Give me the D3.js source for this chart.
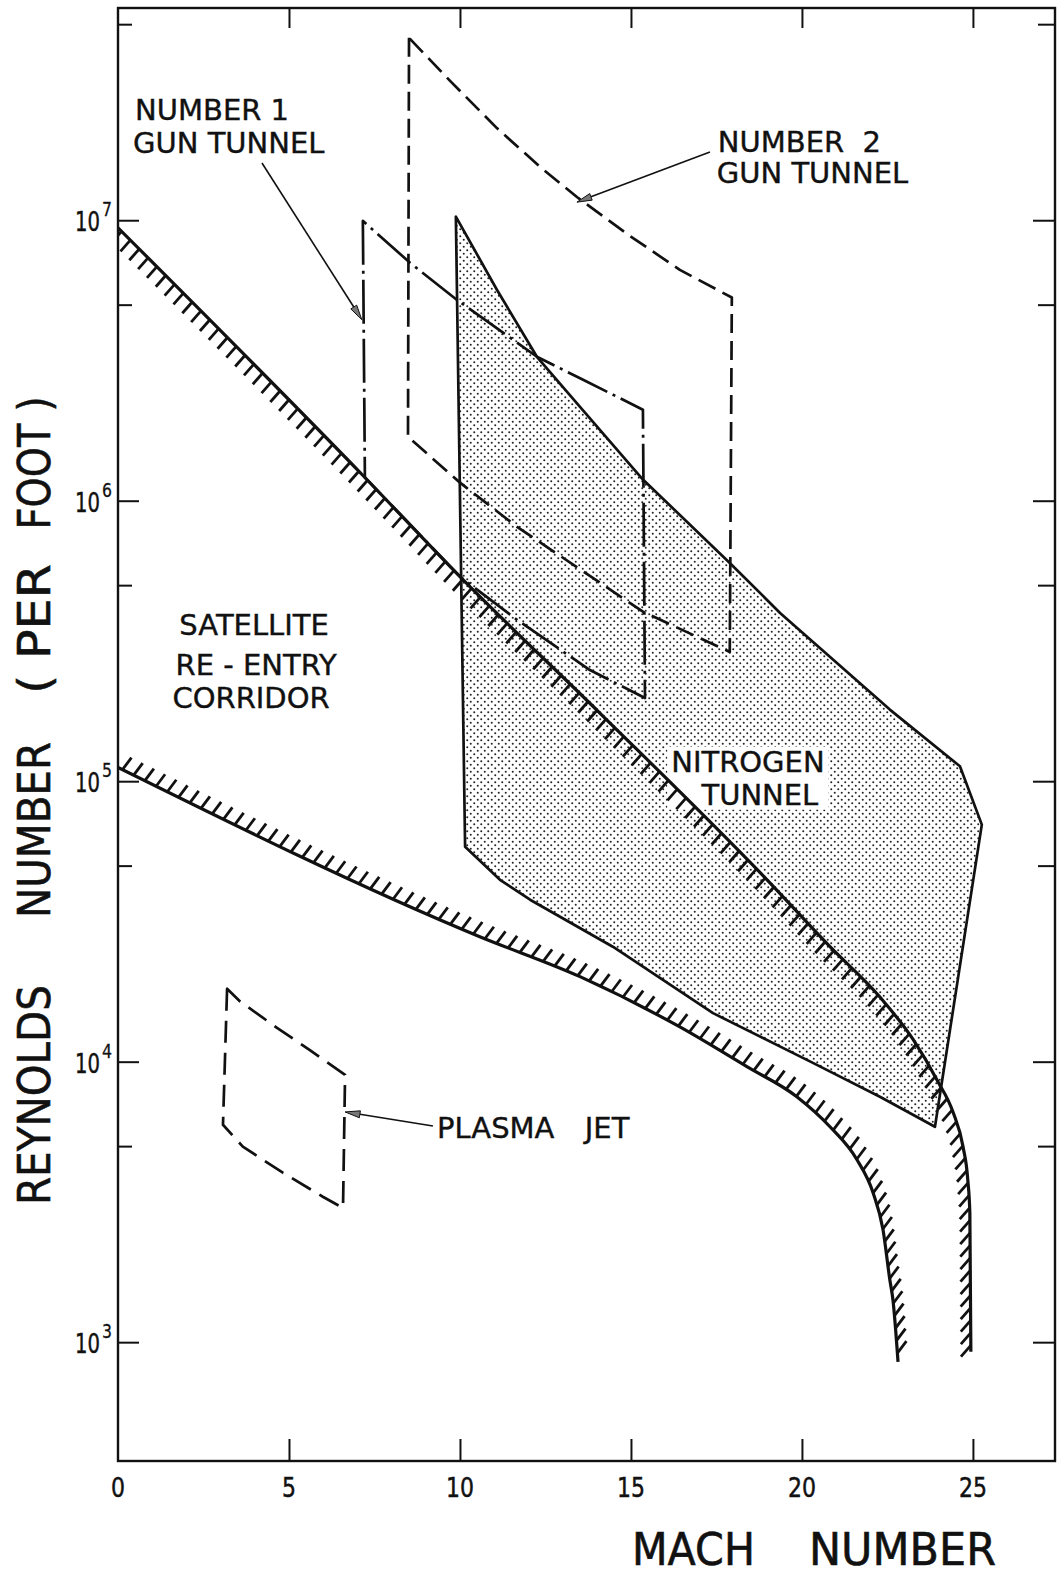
<!DOCTYPE html>
<html>
<head>
<meta charset="utf-8">
<script src="https://cdn.jsdelivr.net/npm/d3@7"></script>
<style>
	body { margin: 0; background: #fff; }
	svg { display: block; background: #fff; }
	text { font-family: 'DejaVu Sans', 'Open Sans', sans-serif; fill: #111; white-space: pre; }
</style>
</head>
<body>
<svg id="chart" width="1063" height="1574"></svg>
<script>
// axis ticks
const machTicks = [5, 10, 15, 20, 25];
const machLabelValues = [0, 5, 10, 15, 20, 25];
const machLabels = ['0', '5', '10', '15', '20', '25'];
const reynoldsDecades = [1e3, 1e4, 1e5, 1e6, 1e7];
const reynoldsExponents = ['3', '4', '5', '6', '7'];
const reynoldsHalfDecades = [5e3, 5e4, 5e5, 5e6, 5e7];

// satellite re-entry corridor, upper and lower boundary
const upperCorridorMach = [0, 7.22, 10.0, 14.09, 18.98, 20.82, 22.28, 23.25, 23.95, 24.42, 24.71, 24.85, 24.91, 24.94];
const upperCorridorRe = [9.4e6, 1.21e6, 5.36e5, 1.75e5, 4.45e4, 2.57e4, 1.70e4, 1.20e4, 8.6e3, 6.6e3, 4.98e3, 3.79e3, 2.89e3, 925];
const lowerCorridorMach = [0, 10.58, 13.51, 16.43, 18.39, 19.85, 20.82, 21.61, 22.08, 22.37, 22.57, 22.66, 22.81];
const lowerCorridorRe = [1.12e5, 2.79e4, 2.01e4, 1.33e4, 9.6e3, 7.5e3, 5.86e3, 4.47e3, 3.41e3, 2.52e3, 1.67e3, 1.42e3, 851];

// facility envelopes
const nitrogenMach = [9.88, 10.15, 11.17, 12.05, 14.47, 17.40, 20.32, 22.28, 23.89, 25.26, 24.62, 22.57, 19.36, 17.89, 15.35, 13.51, 12.25, 11.08];
const nitrogenRe = [1.03e7, 5.84e4, 4.45e4, 3.78e4, 2.57e4, 1.49e4, 9.9e3, 7.5e3, 5.86e3, 7.0e4, 1.13e5, 1.80e5, 3.98e5, 6.0e5, 1.19e6, 2.16e6, 3.26e6, 5.65e6];
const gunTunnel1Mach = [7.16, 7.22, 10.0, 11.67, 13.80, 15.41, 15.35, 13.60, 12.25, 9.91, 8.54];
const gunTunnel1Re = [9.95e6, 1.21e6, 5.36e5, 3.76e5, 2.49e5, 1.98e5, 2.11e6, 2.70e6, 3.26e6, 5.20e6, 7.05e6];
const gunTunnel2Mach = [8.51, 8.48, 10.0, 11.67, 15.35, 17.89, 17.95, 16.43, 14.97, 13.42, 12.34, 11.08, 9.71];
const gunTunnel2Re = [4.47e7, 1.69e6, 1.16e6, 8.07e5, 4.02e5, 2.89e5, 5.30e6, 6.65e6, 8.79e6, 1.21e7, 1.55e7, 2.13e7, 3.14e7];
const plasmaJetMach = [3.19, 3.07, 3.65, 4.82, 5.99, 6.58, 6.64, 5.61, 4.65, 3.57];
const plasmaJetRe = [1.82e4, 5.96e3, 4.98e3, 4.02e3, 3.30e3, 3.01e3, 8.98e3, 1.10e4, 1.32e4, 1.64e4];

// leader arrows: [mach, re] from label to envelope
const arrowFrom = [[4.21, 1.60e7], [17.31, 1.75e7], [9.21, 5.90e3]];
const arrowTo = [[7.13, 4.42e6], [13.42, 1.16e7], [6.64, 6.62e3]];

const ReEntryChart = {
	width: 1063,
	height: 1574,
	margin: { left: 118, right: 8, top: 8, bottom: 113 },
	machMax: 27.4,
	reMin: 377,
	reMax: 5.71e7,

	draw: function() {
		const self = this;

		self.svg = d3.select('#chart');
		self.x0 = self.margin.left;
		self.x1 = self.width - self.margin.right;
		self.y0 = self.margin.top;
		self.y1 = self.height - self.margin.bottom;
		self.xScale = d3.scaleLinear()
			.domain([ 0, self.machMax ])
			.range([ self.x0, self.x1 ]);
		self.yScale = d3.scaleLog()
			.domain([ self.reMin, self.reMax ])
			.range([ self.y1, self.y0 ]);

		self.initDefs();
		self.initLayers();
		self.drawEnvelopeFills();
		self.drawCorridor();
		self.drawEnvelopeOutlines();
		self.drawLabels();
		self.drawArrows();
		self.drawAxes();
	},

	initDefs: function() {
		const self = this;
		let defs = self.svg.append('defs');
		let pattern = defs.append('pattern')
			.attr('id', 'stipple')
			.attr('patternUnits', 'userSpaceOnUse')
			.attr('width', 7)
			.attr('height', 7);

		pattern.append('circle').attr('cx', 1.75).attr('cy', 1.75).attr('r', 1).attr('fill', '#222');
		pattern.append('circle').attr('cx', 5.25).attr('cy', 5.25).attr('r', 1).attr('fill', '#222');

		defs.append('clipPath')
			.attr('id', 'plot-clip')
			.append('rect')
			.attr('x', self.x0)
			.attr('y', self.y0)
			.attr('width', self.x1 - self.x0)
			.attr('height', self.y1 - self.y0);
	},
	initLayers: function() {
		const self = this;
		let plot = self.svg.append('g').attr('clip-path', 'url(#plot-clip)');

		self.fillLayer = plot.append('g');
		self.knockoutLayer = plot.append('g');
		self.corridorLayer = plot.append('g');
		self.outlineLayer = plot.append('g');
		self.textLayer = self.svg.append('g');
		self.arrowLayer = self.svg.append('g');
		self.axisLayer = self.svg.append('g');
	},
	linePath: function(mach, re, curve) {
		const self = this;
		let line = d3.line()
			.x(d => self.xScale(d[0]))
			.y(d => self.yScale(d[1]));

		if (curve)
			line.curve(curve);

		return line(d3.zip(mach, re));
	},
	// narrow lettering: squeeze the text to a given width
	fitText: function(parent, str, fontSize, width, x, y, rotate) {
		let el = parent.append('text')
			.attr('font-size', fontSize)
			.text(str);
		let natural = el.node().getComputedTextLength();
		let k = width / natural;

		el.attr('transform', 'translate(' + x + ',' + y + ')' +
			(rotate ? ' rotate(' + rotate + ')' : '') +
			' scale(' + k + ',1)');

		return el;
	},

	drawEnvelopeFills: function() {
		const self = this;

		self.fillLayer.append('path')
			.attr('d', self.linePath(nitrogenMach, nitrogenRe) + 'Z')
			.attr('fill', 'url(#stipple)')
			.attr('stroke', 'none');
	},
	drawCorridor: function() {
		const self = this;

		self.drawHatchedLine(upperCorridorMach, upperCorridorRe, [ -0.66, 0.75 ]);
		self.drawHatchedLine(lowerCorridorMach, lowerCorridorRe, [ 0.6, -0.8 ]);
	},
	drawHatchedLine: function(mach, re, direction) {
		const self = this;
		let hatchLength = 15;
		let hatchGap = 12.5;
		let path = self.corridorLayer.append('path')
			.attr('d', self.linePath(mach, re, d3.curveMonotoneX))
			.attr('fill', 'none')
			.attr('stroke', '#111')
			.attr('stroke-width', 3.2);
		let node = path.node();
		let total = node.getTotalLength();

		for (let s = 5; s < total; s += hatchGap) {
			let p = node.getPointAtLength(s);

			self.corridorLayer.append('line')
				.attr('x1', p.x)
				.attr('y1', p.y)
				.attr('x2', p.x + direction[0] * hatchLength)
				.attr('y2', p.y + direction[1] * hatchLength)
				.attr('stroke', '#111')
				.attr('stroke-width', 2.8);
		}
	},
	drawEnvelopeOutlines: function() {
		const self = this;
		let envelopes = [
			{ mach: nitrogenMach, re: nitrogenRe, dash: null },
			{ mach: gunTunnel1Mach, re: gunTunnel1Re, dash: '44,6,3,6' },
			{ mach: gunTunnel2Mach, re: gunTunnel2Re, dash: '19,8' },
			{ mach: plasmaJetMach, re: plasmaJetRe, dash: '22,10' }
		];

		for (let i = 0; i < envelopes.length; i++) {
			let env = envelopes[i];

			self.outlineLayer.append('path')
				.attr('d', self.linePath(env.mach, env.re) + 'Z')
				.attr('fill', 'none')
				.attr('stroke', '#111')
				.attr('stroke-width', 2.7)
				.attr('stroke-linejoin', 'round')
				.attr('stroke-dasharray', env.dash);
		}
	},

	drawLabels: function() {
		const self = this;
		let labels = [
			{ text: 'NUMBER 1', mach: 0.50, re: 2.28e7, anchor: 'start' },
			{ text: 'GUN TUNNEL', mach: 0.44, re: 1.74e7, anchor: 'start' },
			{ text: 'NUMBER  2', mach: 17.54, re: 1.75e7, anchor: 'start' },
			{ text: 'GUN TUNNEL', mach: 17.51, re: 1.36e7, anchor: 'start' },
			{ text: 'SATELLITE', mach: 3.98, re: 3.33e5, anchor: 'middle' },
			{ text: 'RE - ENTRY', mach: 4.04, re: 2.39e5, anchor: 'middle' },
			{ text: 'CORRIDOR', mach: 3.89, re: 1.83e5, anchor: 'middle' },
			{ text: 'NITROGEN', mach: 18.42, re: 1.08e5, anchor: 'middle', knockout: true },
			{ text: 'TUNNEL', mach: 18.77, re: 8.25e4, anchor: 'middle', knockout: true },
			{ text: 'PLASMA', mach: 9.33, re: 5.36e3, anchor: 'start' },
			{ text: 'JET', mach: 13.65, re: 5.36e3, anchor: 'start' }
		];
		let knockoutBoxes = [];

		for (let i = 0; i < labels.length; i++) {
			let label = labels[i];
			let textEl = self.textLayer.append('text')
				.attr('x', self.xScale(label.mach))
				.attr('y', self.yScale(label.re))
				.attr('text-anchor', label.anchor)
				.attr('font-size', 29)
				.attr('stroke', '#111')
				.attr('stroke-width', 0.4)
				.text(label.text);

			if (label.knockout)
				knockoutBoxes.push(textEl.node().getBBox());
		}

		if (knockoutBoxes.length) {
			let left = d3.min(knockoutBoxes, b => b.x) - 4;
			let right = d3.max(knockoutBoxes, b => b.x + b.width) + 4;
			let top = d3.min(knockoutBoxes, b => b.y) + 2;
			let bottom = d3.max(knockoutBoxes, b => b.y + b.height) - 2;

			self.knockoutLayer.append('rect')
				.attr('x', left)
				.attr('y', top)
				.attr('width', right - left)
				.attr('height', bottom - top)
				.attr('fill', '#fff');
		}
	},
	drawArrows: function() {
		const self = this;
		let headLength = 15;
		let headHalfWidth = 3.5;

		for (let i = 0; i < arrowFrom.length; i++) {
			let ax = self.xScale(arrowFrom[i][0]);
			let ay = self.yScale(arrowFrom[i][1]);
			let bx = self.xScale(arrowTo[i][0]);
			let by = self.yScale(arrowTo[i][1]);
			let len = Math.hypot(bx - ax, by - ay);
			let ux = (bx - ax) / len;
			let uy = (by - ay) / len;
			let baseX = bx - ux * headLength;
			let baseY = by - uy * headLength;

			self.arrowLayer.append('line')
				.attr('x1', ax)
				.attr('y1', ay)
				.attr('x2', baseX)
				.attr('y2', baseY)
				.attr('stroke', '#111')
				.attr('stroke-width', 1.6);

			self.arrowLayer.append('path')
				.attr('d', 'M' + bx + ',' + by +
					'L' + (baseX - uy * headHalfWidth) + ',' + (baseY + ux * headHalfWidth) +
					'L' + (baseX + uy * headHalfWidth) + ',' + (baseY - ux * headHalfWidth) + 'Z')
				.attr('fill', '#777')
				.attr('stroke', '#111')
				.attr('stroke-width', 1);
		}
	},

	drawAxes: function() {
		const self = this;
		let g = self.axisLayer;
		let axes = [
			{ axis: d3.axisLeft(self.yScale).tickValues(reynoldsDecades).tickSizeInner(-21), at: 'translate(' + self.x0 + ',0)' },
			{ axis: d3.axisLeft(self.yScale).tickValues(reynoldsHalfDecades).tickSizeInner(-14), at: 'translate(' + self.x0 + ',0)' },
			{ axis: d3.axisRight(self.yScale).tickValues(reynoldsDecades).tickSizeInner(-22), at: 'translate(' + self.x1 + ',0)' },
			{ axis: d3.axisRight(self.yScale).tickValues(reynoldsHalfDecades).tickSizeInner(-17), at: 'translate(' + self.x1 + ',0)' },
			{ axis: d3.axisTop(self.xScale).tickValues(machTicks).tickSizeInner(-20), at: 'translate(0,' + self.y0 + ')' },
			{ axis: d3.axisBottom(self.xScale).tickValues(machTicks).tickSizeInner(-22), at: 'translate(0,' + self.y1 + ')' }
		];

		for (let i = 0; i < axes.length; i++) {
			let axisG = g.append('g')
				.attr('transform', axes[i].at)
				.call(axes[i].axis.tickSizeOuter(0).tickFormat(''));

			axisG.select('.domain').remove();
			axisG.selectAll('.tick line')
				.attr('stroke', '#111')
				.attr('stroke-width', 2);
		}

		g.append('rect')
			.attr('x', self.x0)
			.attr('y', self.y0)
			.attr('width', self.x1 - self.x0)
			.attr('height', self.y1 - self.y0)
			.attr('fill', 'none')
			.attr('stroke', '#111')
			.attr('stroke-width', 2.4);

		// 10 with superscript exponent
		for (let i = 0; i < reynoldsDecades.length; i++) {
			let y = self.yScale(reynoldsDecades[i]);

			self.fitText(g, '10', 27, 25, self.x0 - 43, y + 11)
				.attr('stroke', '#111')
				.attr('stroke-width', 0.5);
			self.fitText(g, reynoldsExponents[i], 19, 10, self.x0 - 16, y - 4)
				.attr('stroke', '#111')
				.attr('stroke-width', 0.3);
		}

		for (let i = 0; i < machLabelValues.length; i++) {
			let labelWidth = 14 * machLabels[i].length;

			self.fitText(g, machLabels[i], 27, labelWidth, self.xScale(machLabelValues[i]) - labelWidth / 2, self.y1 + 36)
				.attr('stroke', '#111')
				.attr('stroke-width', 0.5);
		}

		self.drawTitles();
	},
	drawTitles: function() {
		const self = this;
		let g = self.axisLayer;
		let xTitle = [ { text: 'MACH', x: 632, width: 123 }, { text: 'NUMBER', x: 809, width: 187 } ];
		let yTitle = [
			{ text: 'REYNOLDS', center: 1095, width: 220 },
			{ text: 'NUMBER', center: 830, width: 176 },
			{ text: '( PER', center: 629, width: 130 },
			{ text: 'FOOT )', center: 463, width: 133 }
		];

		for (let i = 0; i < xTitle.length; i++)
			self.fitText(g, xTitle[i].text, 44, xTitle[i].width, xTitle[i].x, self.height - 9)
				.attr('stroke', '#111')
				.attr('stroke-width', 0.6);

		for (let i = 0; i < yTitle.length; i++)
			self.fitText(g, yTitle[i].text, 44, yTitle[i].width, 50, yTitle[i].center + yTitle[i].width / 2, -90)
				.attr('stroke', '#111')
				.attr('stroke-width', 0.6);
	}
}

ReEntryChart.draw();
</script>
</body>
</html>
